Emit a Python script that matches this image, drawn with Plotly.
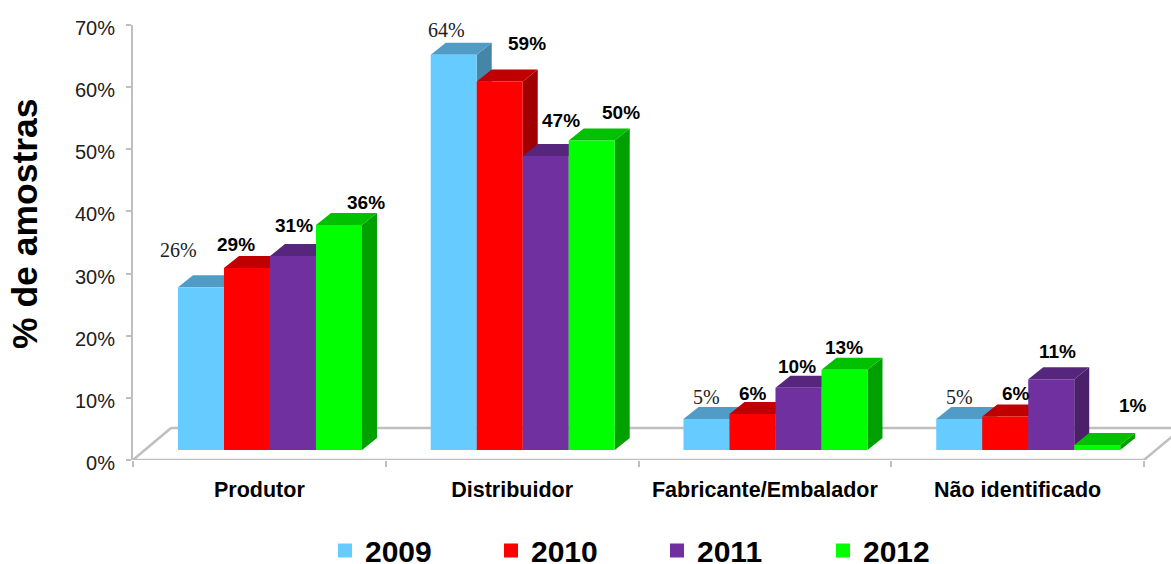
import plotly.graph_objects as go

categories = ["Produtor", "Distribuidor", "Fabricante/Embalador", "Não identificado"]
years = ["2009", "2010", "2011", "2012"]
values_2009 = [26.2, 63.6, 5.0, 5.0]
values_2010 = [29.3, 59.3, 5.8, 5.4]
values_2011 = [31.2, 47.3, 10.0, 11.4]
values_2012 = [36.2, 49.8, 12.9, 0.8]
labels_2009 = ["26%", "64%", "5%", "5%"]
labels_2010 = ["29%", "59%", "6%", "6%"]
labels_2011 = ["31%", "47%", "10%", "11%"]
labels_2012 = ["36%", "50%", "13%", "1%"]
y_ticks = [0, 10, 20, 30, 40, 50, 60, 70]

series_values = [values_2009, values_2010, values_2011, values_2012]
series_labels = [labels_2009, labels_2010, labels_2011, labels_2012]

front_colors = ["#66CCFF", "#FF0000", "#7030A0", "#00FF00"]
top_colors = ["#509CC6", "#C00000", "#56257C", "#00C000"]
side_colors = ["#4585A8", "#A00000", "#4A2069", "#00A000"]
grey = "#BFBFBF"

# label offsets in pixels from each bar's front-top centre (series x category)
label_dx = [[-22, -7, 0, 0], [-11, 27, 1, 11], [1, 15, -1, 6], [27, 29, 0, 36]]
label_dy = [[37, 25, 22, 22], [23, 38, 20, 23], [31, 36, 21, 28], [23, 28, 22, 40]]

W, H = 1171, 564
L, R, T, B = 133, 0, 25, 104
px_x = 252.75
px_y = (H - T - B) / 70.0
ux = 1 / px_x
uy = 1 / px_y
x_min, x_max = -0.5, -0.5 + (W - L - R) * ux
bar_w = 46 * ux
shift_x = 10.6 * ux
floor_y = 10 * uy
depth_x = 15 * ux
depth_y = 12 * uy
wall_y = 32 * uy
wall_x = 38 * ux

fig = go.Figure()


def poly(xs, ys, color):
    fig.add_trace(go.Scatter(x=xs + xs[:1], y=ys + ys[:1], mode="lines", fill="toself",
                             fillcolor=color, line=dict(width=0, color=color),
                             hoverinfo="skip", showlegend=False))


def gline(xs, ys):
    fig.add_trace(go.Scatter(x=xs, y=ys, mode="lines", line=dict(color=grey, width=2.5),
                             hoverinfo="skip", showlegend=False, cliponaxis=False))


# floor and wall
n = len(categories)
gline([-0.5 + wall_x, x_max], [wall_y, wall_y])
gline([-0.5, -0.5 + wall_x], [0, wall_y])
gline([n - 0.5, n - 0.5 + wall_x], [0, wall_y])
gline([-0.5, n - 0.5], [0, 0])

annotations = []
for c in range(n):
    for s in range(len(years)):
        v = series_values[s][c]
        x0 = c + shift_x + (s - 2) * bar_w
        x1 = x0 + bar_w
        y0 = floor_y
        y1 = floor_y + v
        poly([x1, x1 + depth_x, x1 + depth_x, x1],
             [y0, y0 + depth_y, y1 + depth_y, y1], side_colors[s])
        poly([x0, x0 + depth_x, x1 + depth_x, x1],
             [y1, y1 + depth_y, y1 + depth_y, y1], top_colors[s])
        poly([x0, x1, x1, x0], [y0, y0, y1, y1], front_colors[s])
        serif = s == 0
        annotations.append(dict(
            x=(x0 + x1) / 2, y=y1, xref="x", yref="y", text=series_labels[s][c],
            showarrow=False, xanchor="center", yanchor="middle",
            xshift=label_dx[s][c], yshift=label_dy[s][c],
            font=dict(family="Liberation Serif" if serif else "Liberation Sans",
                      size=20 if serif else 19, color="#202020" if serif else "black",
                      weight="normal" if serif else "bold")))

# legend entries
for s, yr in enumerate(years):
    fig.add_trace(go.Scatter(x=[None], y=[None], mode="markers", name=yr,
                             marker=dict(symbol="square", size=14, color=front_colors[s])))

annotations.append(dict(
    x=(25 - L) / (W - L - R), y=(H - B - 224) / (H - T - B), xref="paper", yref="paper",
    text="<b>% de amostras</b>", textangle=-90, showarrow=False,
    xanchor="center", yanchor="middle",
    font=dict(family="Liberation Sans", size=35.5, color="black")))

fig.update_layout(
    width=W, height=H, margin=dict(l=L, r=R, t=T, b=B, autoexpand=False),
    paper_bgcolor="white", plot_bgcolor="white",
    font=dict(family="Liberation Sans", color="black"),
    annotations=annotations,
    legend=dict(orientation="h", x=(325 - L) / (W - L - R), xanchor="left",
                y=-0.148, yanchor="top", entrywidth=121, entrywidthmode="pixels",
                itemwidth=30, font=dict(family="Liberation Sans", size=30, weight="bold",
                                        color="black"),
                bgcolor="rgba(0,0,0,0)", traceorder="normal"),
    xaxis=dict(range=[x_min, x_max], showgrid=False, zeroline=False, showline=False,
               tickmode="array", tickvals=list(range(n)), ticktext=categories, ticks="",
               tickfont=dict(size=21.5, weight="bold", family="Liberation Sans"),
               ticklabelstandoff=14,
               minor=dict(tickmode="array", tickvals=[i - 0.5 for i in range(n + 1)],
                          ticks="outside", ticklen=6, tickcolor=grey, tickwidth=2,
                          showgrid=False)),
    yaxis=dict(range=[0, 70], showgrid=False, zeroline=False, showline=True, linecolor=grey,
               linewidth=2, tickmode="array", tickvals=y_ticks,
               ticktext=[f"{t}%" for t in y_ticks], ticks="outside", ticklen=5,
               tickcolor=grey, tickwidth=2, ticklabelstandoff=7, ticklabelshift=3,
               tickfont=dict(size=20, family="Liberation Sans", color="#202020")),
)

fig.write_html("out.html", post_script="document.body.style.margin='0';",
               config={"displayModeBar": False})
